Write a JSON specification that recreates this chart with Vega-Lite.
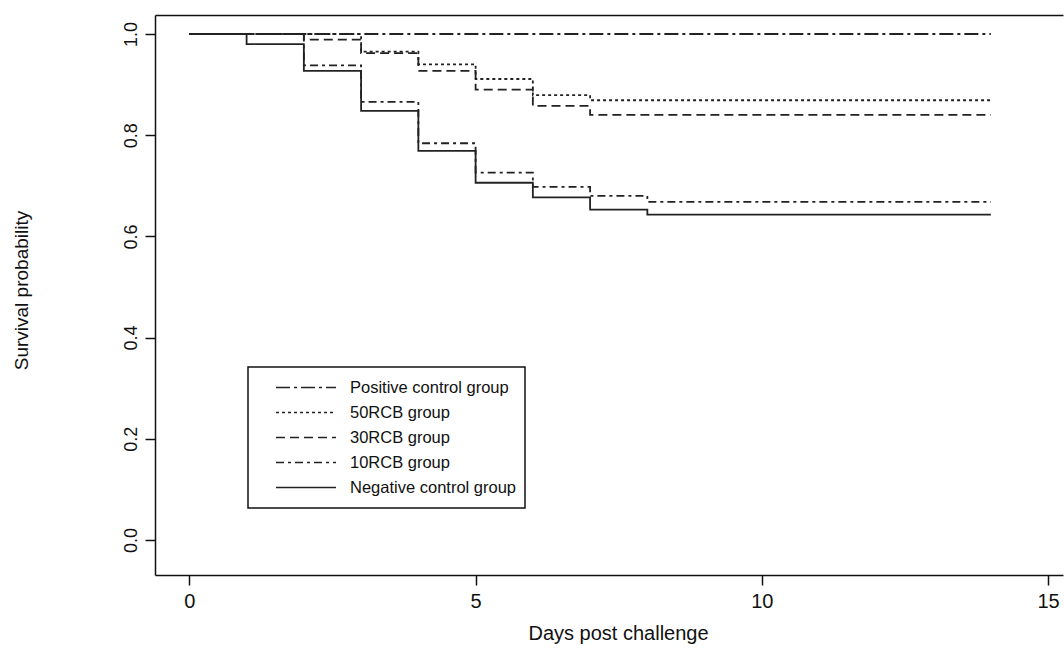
{
  "$schema": "https://vega.github.io/schema/vega-lite/v6.json",
  "width": 908,
  "height": 560,
  "autosize": {"type": "none"},
  "padding": {"left": 155, "top": 15, "right": 1, "bottom": 75},
  "background": "white",
  "config": {
    "view": {"stroke": null},
    "font": "Liberation Sans",
    "axis": {
      "grid": false,
      "domainColor": "#111111",
      "tickColor": "#111111",
      "labelColor": "#111111",
      "titleColor": "#111111",
      "domainWidth": 1.5,
      "tickWidth": 1.5,
      "labelFont": "Liberation Sans",
      "titleFont": "Liberation Sans",
      "titleFontWeight": "normal"
    }
  },
  "data": {
    "values": [
      {"group": "Positive control group", "day": 0, "surv": 1.0},
      {"group": "Positive control group", "day": 14, "surv": 1.0},
      {"group": "50RCB group", "day": 0, "surv": 1.0},
      {"group": "50RCB group", "day": 3, "surv": 0.965},
      {"group": "50RCB group", "day": 4, "surv": 0.94},
      {"group": "50RCB group", "day": 5, "surv": 0.911},
      {"group": "50RCB group", "day": 6, "surv": 0.879},
      {"group": "50RCB group", "day": 7, "surv": 0.869},
      {"group": "50RCB group", "day": 14, "surv": 0.869},
      {"group": "30RCB group", "day": 0, "surv": 1.0},
      {"group": "30RCB group", "day": 2, "surv": 0.989},
      {"group": "30RCB group", "day": 3, "surv": 0.962},
      {"group": "30RCB group", "day": 4, "surv": 0.927},
      {"group": "30RCB group", "day": 5, "surv": 0.89},
      {"group": "30RCB group", "day": 6, "surv": 0.858},
      {"group": "30RCB group", "day": 7, "surv": 0.84},
      {"group": "30RCB group", "day": 14, "surv": 0.84},
      {"group": "10RCB group", "day": 0, "surv": 1.0},
      {"group": "10RCB group", "day": 2, "surv": 0.938},
      {"group": "10RCB group", "day": 3, "surv": 0.866},
      {"group": "10RCB group", "day": 4, "surv": 0.784},
      {"group": "10RCB group", "day": 5, "surv": 0.726},
      {"group": "10RCB group", "day": 6, "surv": 0.698},
      {"group": "10RCB group", "day": 7, "surv": 0.68},
      {"group": "10RCB group", "day": 8, "surv": 0.668},
      {"group": "10RCB group", "day": 14, "surv": 0.668},
      {"group": "Negative control group", "day": 0, "surv": 1.0},
      {"group": "Negative control group", "day": 1, "surv": 0.98},
      {"group": "Negative control group", "day": 2, "surv": 0.927},
      {"group": "Negative control group", "day": 3, "surv": 0.848},
      {"group": "Negative control group", "day": 4, "surv": 0.769},
      {"group": "Negative control group", "day": 5, "surv": 0.706},
      {"group": "Negative control group", "day": 6, "surv": 0.677},
      {"group": "Negative control group", "day": 7, "surv": 0.653},
      {"group": "Negative control group", "day": 8, "surv": 0.643},
      {"group": "Negative control group", "day": 14, "surv": 0.643}
    ]
  },
  "layer": [
    {
      "mark": {"type": "line", "interpolate": "step-after", "strokeWidth": 1.8, "color": "#222222"},
      "encoding": {
        "x": {
          "field": "day", "type": "quantitative",
          "scale": {"domain": [-0.6, 15.26], "nice": false, "zero": false},
          "axis": {
            "values": [0, 5, 10, 15],
            "tickSize": 10,
            "labelPadding": 6,
            "labelFontSize": 20,
            "labelFlush": false,
            "title": "Days post challenge",
            "titleFontSize": 20,
            "titleX": 463,
            "titleY": 48,
            "titleBaseline": "top"
          }
        },
        "y": {
          "field": "surv", "type": "quantitative",
          "scale": {"domain": [-0.0692, 1.0375], "nice": false, "zero": false},
          "axis": {
            "values": [0, 0.2, 0.4, 0.6, 0.8, 1.0],
            "format": ".1f",
            "tickSize": 10,
            "labelAngle": 270,
            "labelAlign": "center",
            "labelBaseline": "bottom",
            "labelPadding": 5,
            "labelFontSize": 18,
            "title": "Survival probability",
            "titleFontSize": 19,
            "titleAngle": 270,
            "titleAlign": "center",
            "titleBaseline": "bottom",
            "titleX": -124,
            "titleY": 275
          }
        },
        "strokeDash": {
          "field": "group", "type": "nominal",
          "scale": {
            "domain": ["Positive control group", "50RCB group", "30RCB group", "10RCB group", "Negative control group"],
            "range": [[14, 4, 3, 4], [3, 3], [9, 5], [8, 4, 3, 4], [1, 0]]
          },
          "legend": {
            "orient": "none",
            "legendX": 93,
            "legendY": 352,
            "title": null,
            "symbolType": "stroke",
            "symbolSize": 3600,
            "symbolStrokeWidth": 1.5,
            "symbolStrokeColor": "#222222",
            "labelFontSize": 16.5,
            "labelFont": "Liberation Sans",
            "labelColor": "#111111",
            "labelOffset": 13,
            "symbolOffset": 19,
            "clipHeight": 25,
            "rowPadding": 0,
            "padding": 8,
            "strokeColor": "#111111",
            "fillColor": "white",
            "labelLimit": 400,
            "encode": {"legend": {"update": {"strokeWidth": {"value": 1.5}}}}
          }
        }
      }
    },
    {
      "mark": {"type": "line", "opacity": 0},
      "encoding": {
        "x": {
          "field": "day", "type": "quantitative",
          "scale": {"domain": [-0.6, 15.26], "nice": false, "zero": false},
          "axis": {"orient": "top", "labels": false, "ticks": false, "title": null, "domain": true}
        },
        "y": {
          "field": "surv", "type": "quantitative",
          "scale": {"domain": [-0.0692, 1.0375], "nice": false, "zero": false}
        }
      }
    }
  ],
  "resolve": {"axis": {"x": "independent"}}
}
